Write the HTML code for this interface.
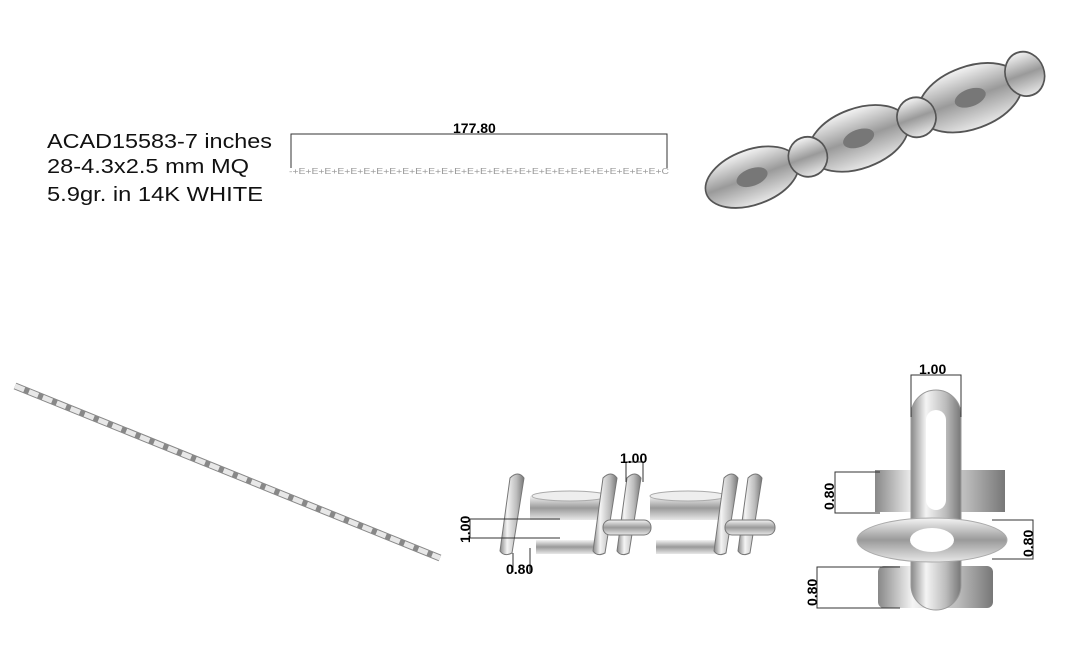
<!DOCTYPE html>
<html><head><meta charset="utf-8"><style>
html,body{margin:0;padding:0;background:#fff}
svg{display:block}
text{font-family:"Liberation Sans",sans-serif}
.b{font-weight:bold;font-size:14px;fill:#000}
</style></head><body>
<svg width="1073" height="667" viewBox="0 0 1073 667" xmlns="http://www.w3.org/2000/svg">
<defs>
<linearGradient id="m" x1="0" y1="0" x2="0" y2="1">
<stop offset="0" stop-color="#f4f4f4"/><stop offset="0.5" stop-color="#9a9a9a"/><stop offset="1" stop-color="#e8e8e8"/></linearGradient>
<linearGradient id="h" x1="0" y1="0" x2="1" y2="0">
<stop offset="0" stop-color="#888"/><stop offset="0.3" stop-color="#f4f4f4"/><stop offset="0.7" stop-color="#bbb"/><stop offset="1" stop-color="#777"/></linearGradient>
</defs>
<text x="47" y="148" font-size="20" fill="#111" textLength="225" lengthAdjust="spacingAndGlyphs">ACAD15583-7 inches</text>
<text x="47" y="173" font-size="20" fill="#111" textLength="202" lengthAdjust="spacingAndGlyphs">28-4.3x2.5 mm MQ</text>
<text x="47" y="201" font-size="20" fill="#111" textLength="216" lengthAdjust="spacingAndGlyphs">5.9gr. in 14K WHITE</text>
<path d="M291,168 V134 H667 V168" fill="none" stroke="#333" stroke-width="1"/>
<text x="453" y="133" class="b">177.80</text>
<text x="289" y="174" font-size="8" fill="#999" textLength="380" lengthAdjust="spacingAndGlyphs">-+E+E+E+E+E+E+E+E+E+E+E+E+E+E+E+E+E+E+E+E+E+E+E+E+E+E+E+E+C</text>
<g transform="translate(712,225) rotate(-20) scale(1.08 1.25)">
<g fill="url(#m)" stroke="#555" stroke-width="1.5">
<ellipse cx="50" cy="-25" rx="45" ry="22"/><ellipse cx="155" cy="-25" rx="48" ry="24"/><ellipse cx="265" cy="-25" rx="50" ry="25"/>
<ellipse cx="105" cy="-25" rx="18" ry="16"/><ellipse cx="212" cy="-25" rx="18" ry="16"/><ellipse cx="320" cy="-28" rx="18" ry="18"/>
</g>
<g fill="#777"><ellipse cx="50" cy="-25" rx="15" ry="7"/><ellipse cx="155" cy="-25" rx="15" ry="7"/><ellipse cx="265" cy="-25" rx="15" ry="7"/></g>
</g>
<path d="M15,386 L440,558" stroke="#888" stroke-width="7" fill="none"/>
<path d="M15,386 L440,558" stroke="#e8e8e8" stroke-width="5" stroke-dasharray="10 5" fill="none"/>
<g>
<rect x="530" y="496" width="80" height="24" fill="url(#m)"/>
<rect x="650" y="496" width="72" height="24" fill="url(#m)"/>
<rect x="536" y="540" width="62" height="14" fill="url(#m)"/>
<rect x="656" y="540" width="62" height="14" fill="url(#m)"/>
<ellipse cx="570" cy="496" rx="38" ry="5" fill="#eee" stroke="#aaa"/>
<ellipse cx="688" cy="496" rx="38" ry="5" fill="#eee" stroke="#aaa"/>
<g fill="url(#h)" stroke="#777">
<path d="M510,478 q8,-8 14,0 l-12,75 q-8,4 -12,-2z"/>
<path d="M603,478 q8,-8 14,0 l-12,75 q-8,4 -12,-2z"/>
<path d="M627,478 q8,-8 14,0 l-12,75 q-8,4 -12,-2z"/>
<path d="M724,478 q8,-8 14,0 l-12,75 q-8,4 -12,-2z"/>
<path d="M748,478 q8,-8 14,0 l-12,75 q-8,4 -12,-2z"/>
</g>
<rect x="603" y="520" width="48" height="15" rx="7" fill="url(#m)" stroke="#777"/>
<rect x="725" y="520" width="50" height="15" rx="7" fill="url(#m)" stroke="#777"/>
</g>
<g stroke="#333" fill="none">
<path d="M470,519 H560 M470,538 H560 M470,519 V538"/>
<path d="M626,482 V462 H643 V482"/>
<path d="M513,553 V572 M530,548 V572"/>
</g>
<text x="620" y="463" class="b">1.00</text>
<text transform="translate(470,543) rotate(-90)" class="b">1.00</text>
<text x="506" y="574" class="b">0.80</text>
<rect x="875" y="470" width="130" height="42" fill="url(#h)"/>
<rect x="878" y="566" width="115" height="42" rx="6" fill="url(#h)"/>
<rect x="911" y="390" width="50" height="220" rx="25" fill="url(#h)" stroke="#999"/>
<rect x="926" y="410" width="20" height="100" rx="10" fill="#fff"/>
<ellipse cx="932" cy="540" rx="75" ry="22" fill="url(#m)" stroke="#aaa"/>
<ellipse cx="932" cy="540" rx="22" ry="12" fill="#fff"/>
<g stroke="#333" fill="none">
<path d="M911,417 V375 H961 V417"/>
<path d="M880,472 H835 V513 H880"/>
<path d="M992,520 H1033 V559 H992"/>
<path d="M900,567 H817 V608 H900"/>
</g>
<text x="919" y="374" class="b">1.00</text>
<text transform="translate(834,510) rotate(-90)" class="b">0.80</text>
<text transform="translate(1033,557) rotate(-90)" class="b">0.80</text>
<text transform="translate(817,606) rotate(-90)" class="b">0.80</text>
</svg>
</body></html>
